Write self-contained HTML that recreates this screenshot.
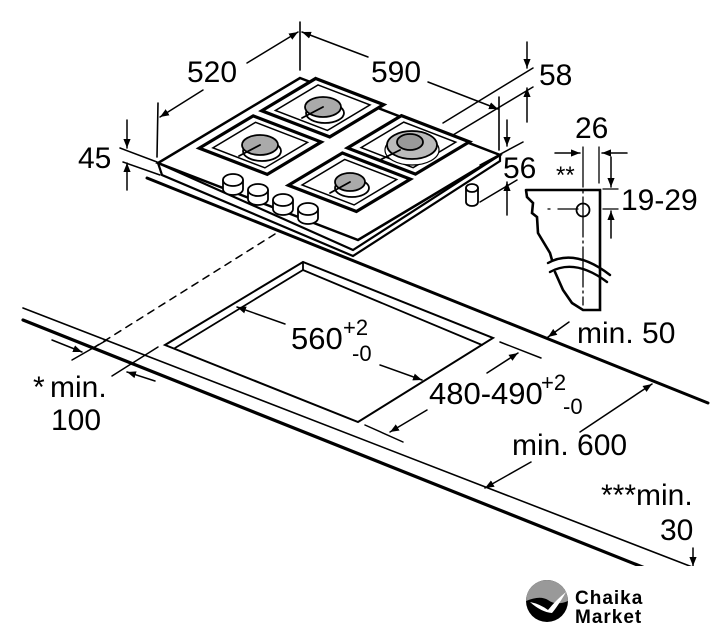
<!DOCTYPE html>
<html><head><meta charset="utf-8"><style>
html,body{margin:0;padding:0;background:#fff;}
svg{display:block;}
text{font-family:"Liberation Sans",Arial,sans-serif;fill:#000;}
</style></head><body>
<svg width="727" height="640" viewBox="0 0 727 640" xmlns="http://www.w3.org/2000/svg">
<defs>
<marker id="ah" viewBox="0 0 10 10" refX="10" refY="5" markerWidth="9" markerHeight="9" orient="auto" markerUnits="userSpaceOnUse"><path d="M0,1 L10,5 L0,9 z" fill="#000"/></marker>
<clipPath id="cp"><rect x="0" y="0" width="727" height="566"/></clipPath>
</defs>
<g stroke="#000" fill="none" stroke-linecap="round" clip-path="url(#cp)">
<!-- countertop -->
<line x1="147" y1="178" x2="708" y2="403" stroke-width="3"/>
<line x1="23" y1="308" x2="700" y2="570" stroke-width="1.6"/>
<line x1="23" y1="320" x2="650" y2="570" stroke-width="3.2"/>
<!-- dashed -->
<line x1="275" y1="234" x2="90" y2="350" stroke-width="1.5" stroke-dasharray="7,6"/>
<!-- cutout -->
<polygon points="303,262 165,345 358,422 493,338" stroke-width="2" fill="#fff"/>
<polyline points="175,348 303,270 482,345" stroke-width="1.8"/>
<line x1="303" y1="262" x2="303" y2="270" stroke-width="1.8"/>
<!-- 560 -->
<line x1="285" y1="324" x2="237" y2="307" stroke-width="1.5" marker-end="url(#ah)"/>
<line x1="380" y1="365" x2="422" y2="380" stroke-width="1.5" marker-end="url(#ah)"/>
<!-- 480 -->
<line x1="500" y1="342" x2="541" y2="358" stroke-width="1.5"/>
<line x1="365" y1="425" x2="403" y2="442" stroke-width="1.5"/>
<line x1="487" y1="373" x2="518" y2="353" stroke-width="1.5" marker-end="url(#ah)"/>
<line x1="427" y1="410" x2="390" y2="432" stroke-width="1.5" marker-end="url(#ah)"/>
<!-- min 600 -->
<line x1="580" y1="432" x2="652" y2="384" stroke-width="1.5" marker-end="url(#ah)"/>
<line x1="531" y1="462" x2="485" y2="488" stroke-width="1.5" marker-end="url(#ah)"/>
<!-- min 50 -->
<line x1="569" y1="322" x2="548" y2="337" stroke-width="1.5" marker-end="url(#ah)"/>
<!-- min 30 -->
<line x1="693" y1="548" x2="693" y2="566" stroke-width="1.5" marker-end="url(#ah)"/>
<!-- min 100 -->
<line x1="72" y1="360" x2="107" y2="340" stroke-width="1.5"/>
<line x1="112" y1="376" x2="158" y2="347" stroke-width="1.5"/>
<line x1="52" y1="340" x2="82" y2="352" stroke-width="1.5" marker-end="url(#ah)"/>
<line x1="155" y1="381" x2="127" y2="372" stroke-width="1.5" marker-end="url(#ah)"/>

<!-- hob body -->
<polygon points="158,163 353,250 500,155 500,161 353,256 162,175" fill="#fff" stroke-width="2.2"/>
<g transform="matrix(2,0.77,-1.42,0.85,300,78)">
<polygon points="0,0 100,0 100,100 0,100" fill="#fff" stroke-width="2.5" vector-effect="non-scaling-stroke"/>
<g fill="#fff">
<rect x="5" y="-4" width="34" height="38" stroke-width="3.2" vector-effect="non-scaling-stroke"/>
<rect x="9" y="0" width="26" height="30" stroke-width="1.5" vector-effect="non-scaling-stroke"/>
<rect x="5" y="40" width="34" height="38" stroke-width="3.2" vector-effect="non-scaling-stroke"/>
<rect x="9" y="44" width="26" height="30" stroke-width="1.5" vector-effect="non-scaling-stroke"/>
<rect x="50" y="-1" width="34" height="38" stroke-width="3.2" vector-effect="non-scaling-stroke"/>
<rect x="54" y="3" width="26" height="30" stroke-width="1.5" vector-effect="non-scaling-stroke"/>
<rect x="51" y="42" width="34" height="38" stroke-width="3.2" vector-effect="non-scaling-stroke"/>
<rect x="55" y="46" width="26" height="30" stroke-width="1.5" vector-effect="non-scaling-stroke"/>
</g>
</g>
<!-- burners -->
<g stroke-width="1.8">
<ellipse cx="325" cy="113" rx="19" ry="10" fill="#fff"/>
<ellipse cx="323" cy="107" rx="18" ry="10" fill="#aaa"/>
<line x1="323" y1="107" x2="302" y2="118"/>
<ellipse cx="262" cy="151" rx="19" ry="10" fill="#fff"/>
<ellipse cx="260" cy="145" rx="18" ry="10" fill="#aaa"/>
<line x1="260" y1="145" x2="239" y2="156"/>
<ellipse cx="412" cy="150" rx="27" ry="15" fill="#fff" stroke-width="1.2"/>
<ellipse cx="412" cy="145" rx="25" ry="14" fill="#bbb"/>
<ellipse cx="410" cy="142" rx="13" ry="8" fill="#999"/>
<line x1="400" y1="150" x2="380" y2="160"/>
<ellipse cx="352" cy="188" rx="17" ry="9" fill="#fff"/>
<ellipse cx="350" cy="182" rx="15" ry="9" fill="#aaa"/>
<line x1="350" y1="182" x2="330" y2="193"/>
</g>
<!-- knobs -->
<g stroke-width="1.8" fill="#fff">
<path d="M223,180 v9 a10,6 0 0 0 20,0 v-9"/><ellipse cx="233" cy="180" rx="10" ry="6"/>
<path d="M248,190 v9 a10,6 0 0 0 20,0 v-9"/><ellipse cx="258" cy="190" rx="10" ry="6"/>
<path d="M273,200 v9 a10,6 0 0 0 20,0 v-9"/><ellipse cx="283" cy="200" rx="10" ry="6"/>
<path d="M298,209 v9 a10,6 0 0 0 20,0 v-9"/><ellipse cx="308" cy="209" rx="10" ry="6"/>
<path d="M466,188 v14 a6,4 0 0 0 12,0 v-14"/><ellipse cx="472" cy="188" rx="6" ry="4"/>
</g>
<!-- 520 / 590 -->
<line x1="300" y1="22" x2="300" y2="70" stroke-width="1.6"/>
<line x1="158" y1="103" x2="157" y2="157" stroke-width="1.6"/>
<line x1="203" y1="90" x2="160" y2="117" stroke-width="1.5" marker-end="url(#ah)"/>
<line x1="247" y1="63" x2="298" y2="32" stroke-width="1.5" marker-end="url(#ah)"/>
<line x1="368" y1="57" x2="302" y2="32" stroke-width="1.5" marker-end="url(#ah)"/>
<line x1="428" y1="82" x2="498" y2="109" stroke-width="1.5" marker-end="url(#ah)"/>
<line x1="499" y1="97" x2="499" y2="150" stroke-width="1.6"/>
<!-- 58 -->
<line x1="443" y1="123" x2="533" y2="68" stroke-width="1.5"/>
<line x1="453" y1="135" x2="533" y2="87" stroke-width="1.5"/>
<line x1="527" y1="42" x2="527" y2="68" stroke-width="1.5" marker-end="url(#ah)"/>
<line x1="527" y1="122" x2="527" y2="88" stroke-width="1.5" marker-end="url(#ah)"/>
<!-- 56 -->
<line x1="480" y1="165" x2="523" y2="142" stroke-width="1.5"/>
<line x1="480" y1="202" x2="517" y2="180" stroke-width="1.5"/>
<line x1="507" y1="120" x2="507" y2="146" stroke-width="1.5" marker-end="url(#ah)"/>
<line x1="507" y1="215" x2="507" y2="182" stroke-width="1.5" marker-end="url(#ah)"/>
<!-- 45 -->
<line x1="127" y1="120" x2="127" y2="148" stroke-width="1.5" marker-end="url(#ah)"/>
<line x1="127" y1="190" x2="127" y2="163" stroke-width="1.5" marker-end="url(#ah)"/>
<line x1="120" y1="148" x2="157" y2="162" stroke-width="1.5"/>
<line x1="123" y1="162" x2="160" y2="175" stroke-width="1.5"/>

<!-- bracket -->
<path d="M526,190 H600 V310 H583 L572,303 L563,290 L555,272 M526,190 L527,197 L533,203 L532,213 L537,217 L538,233 L550,253 L552,260" stroke-width="2.6" fill="#fff"/>
<path d="M548,263 Q575,248 610,275 M550,272 Q575,258 607,282" stroke-width="2.4"/>
<circle cx="583" cy="210" r="6.5" stroke-width="1.8" fill="#fff"/>
<line x1="583" y1="147" x2="583" y2="305" stroke-width="1.3" stroke-dasharray="40,4,2,4"/>
<line x1="599" y1="147" x2="599" y2="183" stroke-width="1.3"/>
<line x1="548" y1="209" x2="578" y2="209" stroke-width="1.3" stroke-dasharray="2,8,20"/>
<line x1="555" y1="153" x2="580" y2="153" stroke-width="1.5" marker-end="url(#ah)"/>
<line x1="627" y1="153" x2="602" y2="153" stroke-width="1.5" marker-end="url(#ah)"/>
<line x1="603" y1="189" x2="618" y2="189" stroke-width="1.3"/>
<line x1="603" y1="209" x2="618" y2="209" stroke-width="1.3"/>
<line x1="611" y1="157" x2="611" y2="187" stroke-width="1.5" marker-end="url(#ah)"/>
<line x1="611" y1="238" x2="611" y2="211" stroke-width="1.5" marker-end="url(#ah)"/>
</g>
<!-- texts -->
<g font-size="30">
<text x="187" y="82">520</text>
<text x="371" y="82">590</text>
<text x="539" y="85">58</text>
<text x="78" y="168">45</text>
<text x="503" y="178">56</text>
<text x="575" y="138">26</text>
<text x="621" y="210">19-29</text>
<text x="291" y="349" font-size="31">560</text>
<text x="343" y="335" font-size="22">+2</text>
<text x="352" y="361" font-size="22">-0</text>
<text x="429" y="404" font-size="31">480-490</text>
<text x="541" y="390" font-size="22">+2</text>
<text x="563" y="414" font-size="22">-0</text>
<text x="577" y="343">min. 50</text>
<text x="512" y="455">min. 600</text>
<text x="33" y="397">*</text>
<text x="50" y="397">min.</text>
<text x="51" y="430">100</text>
<text x="601" y="505">***min.</text>
<text x="660" y="540">30</text>
</g>
<text x="556" y="183" font-size="24">**</text>
<!-- logo -->
<circle cx="547" cy="601" r="21" fill="#000"/>
<path d="M526,601 A21,21 0 0 1 568,601 Q556,606 548,600 Q540,595 526,601 z" fill="#999"/>
<path d="M530,602 Q540,604 548,610 Q556,600 566,592 Q558,606 552,613 Q541,612 530,602 z" fill="#fff"/>
<text x="575" y="604" font-size="19" font-weight="bold" letter-spacing="1">Chaika</text>
<text x="575" y="623" font-size="19" font-weight="bold" letter-spacing="1">Market</text>
</svg>
</body></html>
